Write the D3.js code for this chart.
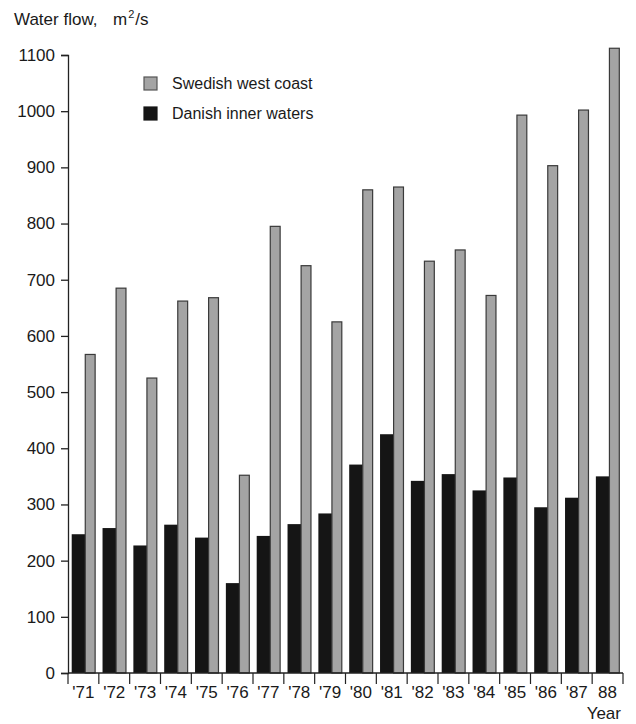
<!DOCTYPE html>
<html><head><meta charset="utf-8">
<script src="https://cdn.jsdelivr.net/npm/d3@7/dist/d3.min.js"></script>
<style>body{margin:0;background:#fff}svg{display:block}text{font-family:"Liberation Sans",Arial,Helvetica,sans-serif;fill:#1a1a1a}</style>
</head><body>
<svg id="c" width="636" height="724"></svg>
<script>
const years = ["'71","'72","'73","'74","'75","'76","'77","'78","'79","'80","'81","'82","'83","'84","'85","'86","'87","88"];
const swedish = [567,685,525,662,668,352,795,725,625,860,865,733,753,672,993,903,1002,1112];
const danish = [247,258,227,264,241,160,244,265,284,371,425,342,354,325,348,295,312,350];
const yTicks = [0,100,200,300,400,500,600,700,800,900,1000,1100];
const seriesNames = ["Swedish west coast","Danish inner waters"];

const svg = d3.select("#c");
const x = d3.scaleBand().domain(years).range([68, 623]);
const y = d3.scaleLinear().domain([0, 1100]).range([673, 55]);
const bw = x.bandwidth();

const g = svg.append("g");
g.selectAll("rect.dk").data(years).join("rect").attr("class","dk")
  .attr("x", d => x(d) + bw*0.12).attr("width", bw*0.44)
  .attr("y", (d,i) => y(danish[i])).attr("height", (d,i) => y(0) - y(danish[i]))
  .attr("fill", "#151515");
g.selectAll("rect.se").data(years).join("rect").attr("class","se")
  .attr("x", d => x(d) + bw*0.56).attr("width", bw*0.32)
  .attr("y", (d,i) => y(swedish[i])).attr("height", (d,i) => y(0) - y(swedish[i]))
  .attr("fill", "#a4a4a4").attr("stroke", "#3a3a3a").attr("stroke-width", 1.2);

const ya = svg.append("g").attr("transform","translate(68,0)")
  .call(d3.axisLeft(y).tickValues(yTicks).tickSize(7).tickPadding(6).tickFormat(d3.format("d")));
ya.select(".domain").attr("stroke","#222").attr("stroke-width",1.3);
ya.selectAll(".tick line").attr("stroke","#222").attr("stroke-width",1.3);
ya.selectAll(".tick text").attr("font-size",17).attr("fill","#1a1a1a").attr("font-family","Liberation Sans, Arial, sans-serif");

const xa = svg.append("g");
xa.append("line").attr("x1",68).attr("x2",623).attr("y1",y(0)).attr("y2",y(0)).attr("stroke","#222").attr("stroke-width",1.3);
const bounds = years.map(d => x(d)).concat([x(years[years.length-1]) + bw]);
xa.selectAll("line.tk").data(bounds).join("line").attr("class","tk")
  .attr("x1", d => d).attr("x2", d => d).attr("y1", y(0)).attr("y2", y(0)+11)
  .attr("stroke","#222").attr("stroke-width",1.2);
xa.selectAll("text.yl").data(years).join("text").attr("class","yl")
  .attr("x", d => x(d) + bw/2).attr("y", 698).attr("text-anchor","middle")
  .attr("font-size",17).text(d => d);

svg.append("text").attr("x",621).attr("y",719).attr("text-anchor","end").attr("font-size",17).text("Year");

const t = svg.append("text").attr("x",14).attr("y",25).attr("font-size",17);
t.append("tspan").text("Water flow,");
t.append("tspan").attr("x",113).text("m");
t.append("tspan").attr("font-size",11).attr("dy",-7).attr("dx",1).text("2");
t.append("tspan").attr("dy",7).attr("dx",1).text("/s");

const leg = svg.append("g");
const legColors = [{f:"#a4a4a4",s:"#555"},{f:"#151515",s:"#151515"}];
leg.selectAll("rect").data(seriesNames).join("rect")
  .attr("x",144).attr("y",(d,i)=>77 + i*30).attr("width",13).attr("height",13)
  .attr("fill",(d,i)=>legColors[i].f).attr("stroke",(d,i)=>legColors[i].s).attr("stroke-width",1.2);
leg.selectAll("text").data(seriesNames).join("text")
  .attr("x",172).attr("y",(d,i)=>89 + i*30).attr("font-size",16).text(d=>d);
</script>
</body></html>
